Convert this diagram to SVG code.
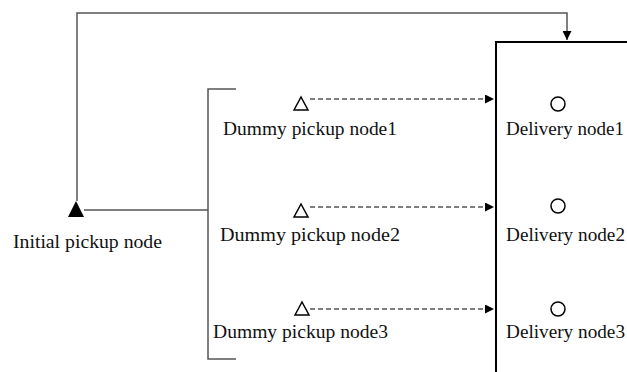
<svg xmlns="http://www.w3.org/2000/svg" width="627" height="372" viewBox="0 0 627 372">
<defs>
<style>
.ln{fill:none;stroke:#555;stroke-width:1.5}
.dash{fill:none;stroke:#555;stroke-width:1.3;stroke-dasharray:5 3}
.box{fill:none;stroke:#000;stroke-width:2}
.tri{fill:#fff;stroke:#000;stroke-width:1.5}
.cir{fill:#fff;stroke:#000;stroke-width:1.5}
text{font-family:"Liberation Serif","Times New Roman",serif;font-size:19px;fill:#111}
</style>
<marker id="ah" viewBox="0 0 10 10" refX="10" refY="5" markerWidth="9" markerHeight="9" markerUnits="userSpaceOnUse" orient="auto">
<path d="M0,0 L10,5 L0,10 z" fill="#000"/>
</marker>
</defs>
<g id="connectors">
<path class="ln" d="M77,201 V13 H567 V40" marker-end="url(#ah)"/>
<path class="ln" d="M84,210 H208"/>
<path class="ln" d="M236,89 H208 V359 H236"/>
<line class="dash" x1="310" y1="99" x2="494" y2="99" marker-end="url(#ah)"/>
<line class="dash" x1="310" y1="207" x2="494" y2="207" marker-end="url(#ah)"/>
<line class="dash" x1="310" y1="309" x2="494" y2="309" marker-end="url(#ah)"/>
</g>
<g id="delivery-box">
<path class="box" d="M496,372 V42 H627"/>
</g>
<g id="initial-pickup">
<path d="M68,217 L76,201 L84,217 z" fill="#000"/>
<text x="13" y="248" textLength="149" lengthAdjust="spacingAndGlyphs">Initial pickup node</text>
</g>
<g id="dummy1">
<path class="tri" d="M294,110 L301,97 L308,110 z"/>
<text x="223" y="135" textLength="174" lengthAdjust="spacingAndGlyphs">Dummy pickup node1</text>
</g>
<g id="dummy2">
<path class="tri" d="M294,217 L301,204 L308,217 z"/>
<text x="220" y="241" textLength="180" lengthAdjust="spacingAndGlyphs">Dummy pickup node2</text>
</g>
<g id="dummy3">
<path class="tri" d="M295,315 L302,302 L309,315 z"/>
<text x="213" y="338" textLength="175" lengthAdjust="spacingAndGlyphs">Dummy pickup node3</text>
</g>
<g id="delivery1">
<circle class="cir" cx="558" cy="104" r="7"/>
<text x="506" y="135" textLength="118" lengthAdjust="spacingAndGlyphs">Delivery node1</text>
</g>
<g id="delivery2">
<circle class="cir" cx="558" cy="206" r="7"/>
<text x="506" y="241" textLength="119" lengthAdjust="spacingAndGlyphs">Delivery node2</text>
</g>
<g id="delivery3">
<circle class="cir" cx="558" cy="309" r="7"/>
<text x="506" y="338" textLength="119" lengthAdjust="spacingAndGlyphs">Delivery node3</text>
</g>
</svg>
